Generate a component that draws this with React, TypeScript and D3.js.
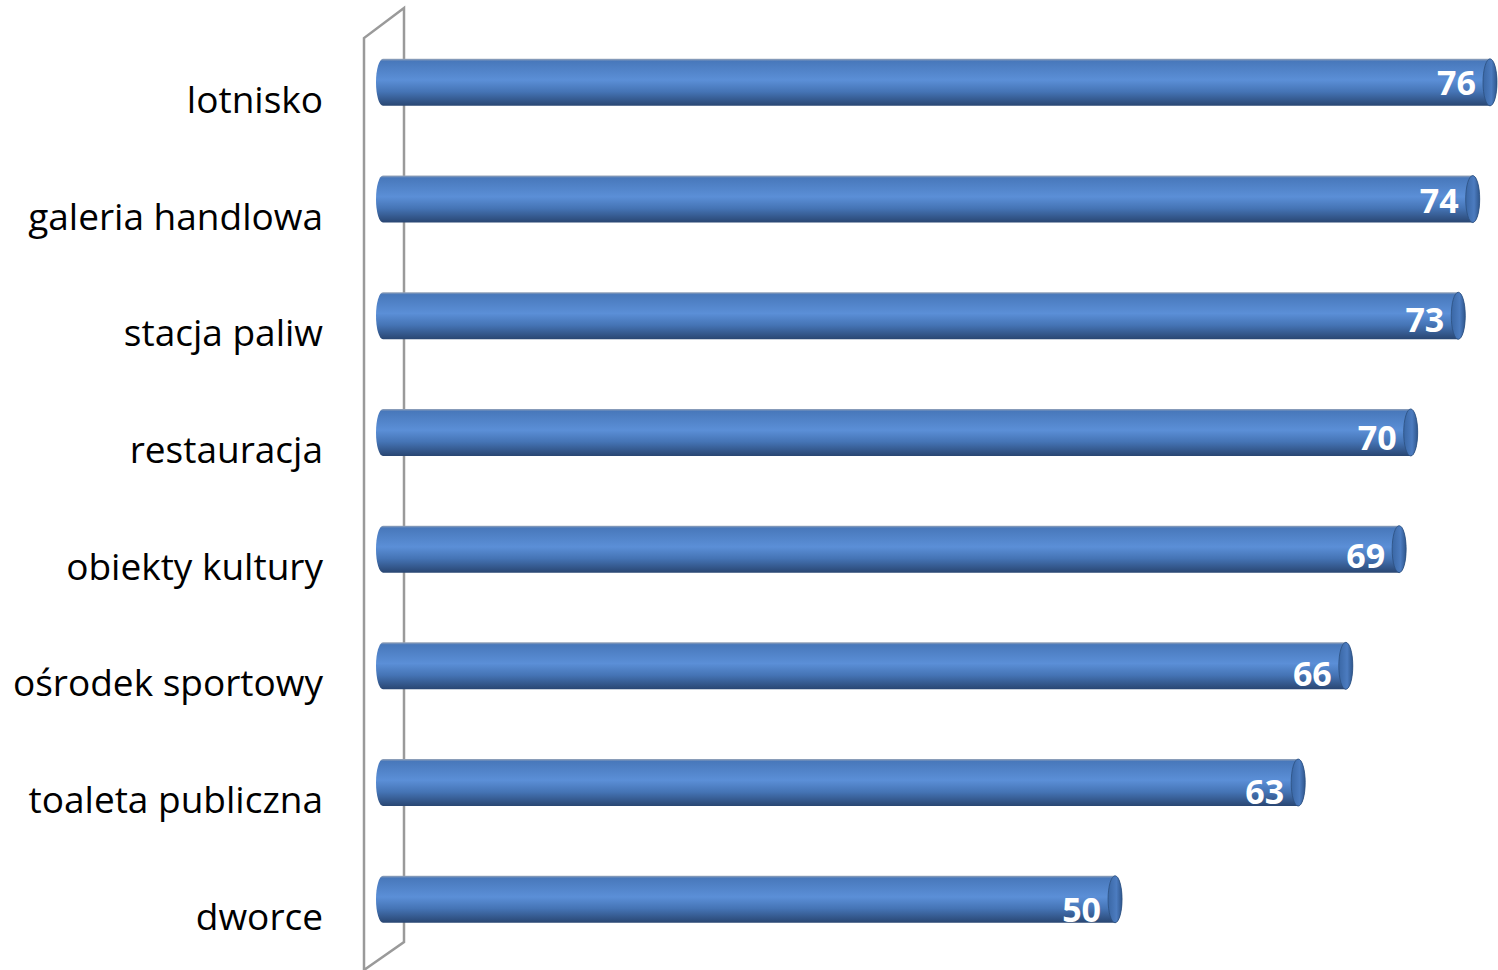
import React from 'react';
import * as d3 from 'd3';

const categories = [
  'lotnisko',
  'galeria handlowa',
  'stacja paliw',
  'restauracja',
  'obiekty kultury',
  'ośrodek sportowy',
  'toaleta publiczna',
  'dworce',
];
const values = [76.0, 74.8, 73.8, 70.5, 69.7, 66.0, 62.7, 50.0];
const valueLabels = ['76', '74', '73', '70', '69', '66', '63', '50'];

const W = 1498;
const H = 970;

export default function App() {
  const x = d3.scaleLinear().domain([0, 76]).range([394, 1490]);
  const y = d3.scaleBand<string>().domain(categories).range([24, 957.6]).paddingInner(0);
  const barH = 47;
  const rx = 7;
  const x0 = 383;

  return (
    <div style={{ position: 'absolute', left: 0, top: 0, width: W, height: H, background: '#fff' }}>
      <svg width={W} height={H} style={{ display: 'block' }}>
        <defs>
          <linearGradient id="body" x1="0" y1="0" x2="0" y2="1">
            <stop offset="0" stopColor="#9aa6b8" />
            <stop offset="0.05" stopColor="#4878bb" />
            <stop offset="0.45" stopColor="#5b8fd7" />
            <stop offset="0.7" stopColor="#4574b5" />
            <stop offset="1" stopColor="#294672" />
          </linearGradient>
          <linearGradient id="cap" x1="0" y1="0" x2="1" y2="0">
            <stop offset="0" stopColor="#3a67a5" />
            <stop offset="0.6" stopColor="#4c7cc0" />
            <stop offset="1" stopColor="#2f568c" />
          </linearGradient>
        </defs>

        {/* wall */}
        <path
          d="M364,970 L364,38 L404,8 L404,942 L364,970"
          fill="none"
          stroke="#9a9a9a"
          strokeWidth={2.5}
        />

        {categories.map((c, i) => {
          const cy = (y(c) as number) + y.bandwidth() / 2;
          const top = cy - barH / 2;
          const bot = cy + barH / 2;
          const xv = x(values[i]);
          const body = `M${x0},${top} L${xv},${top} A${rx},${barH / 2} 0 0 1 ${xv},${bot} L${x0},${bot} A${rx},${barH / 2} 0 0 1 ${x0},${top} Z`;
          return (
            <g key={c}>
              <text
                x={323}
                y={cy + 16}
                textAnchor="end"
                dominantBaseline="central"
                fontFamily="'Open Sans', Lato, sans-serif"
                fontSize={37}
                fill="#000"
              >
                {c}
              </text>
              <path d={body} fill="url(#body)" />
              <ellipse cx={xv} cy={cy} rx={rx} ry={barH / 2} fill="url(#cap)" stroke="#2c5080" strokeWidth={0.8} />
              <text
                x={xv - 14}
                y={cy + i * 1.4}
                textAnchor="end"
                dominantBaseline="central"
                fontFamily="'Open Sans', Lato, sans-serif"
                fontWeight="bold"
                fontSize={34}
                fill="#fff"
              >
                {valueLabels[i]}
              </text>
            </g>
          );
        })}
      </svg>
    </div>
  );
}
